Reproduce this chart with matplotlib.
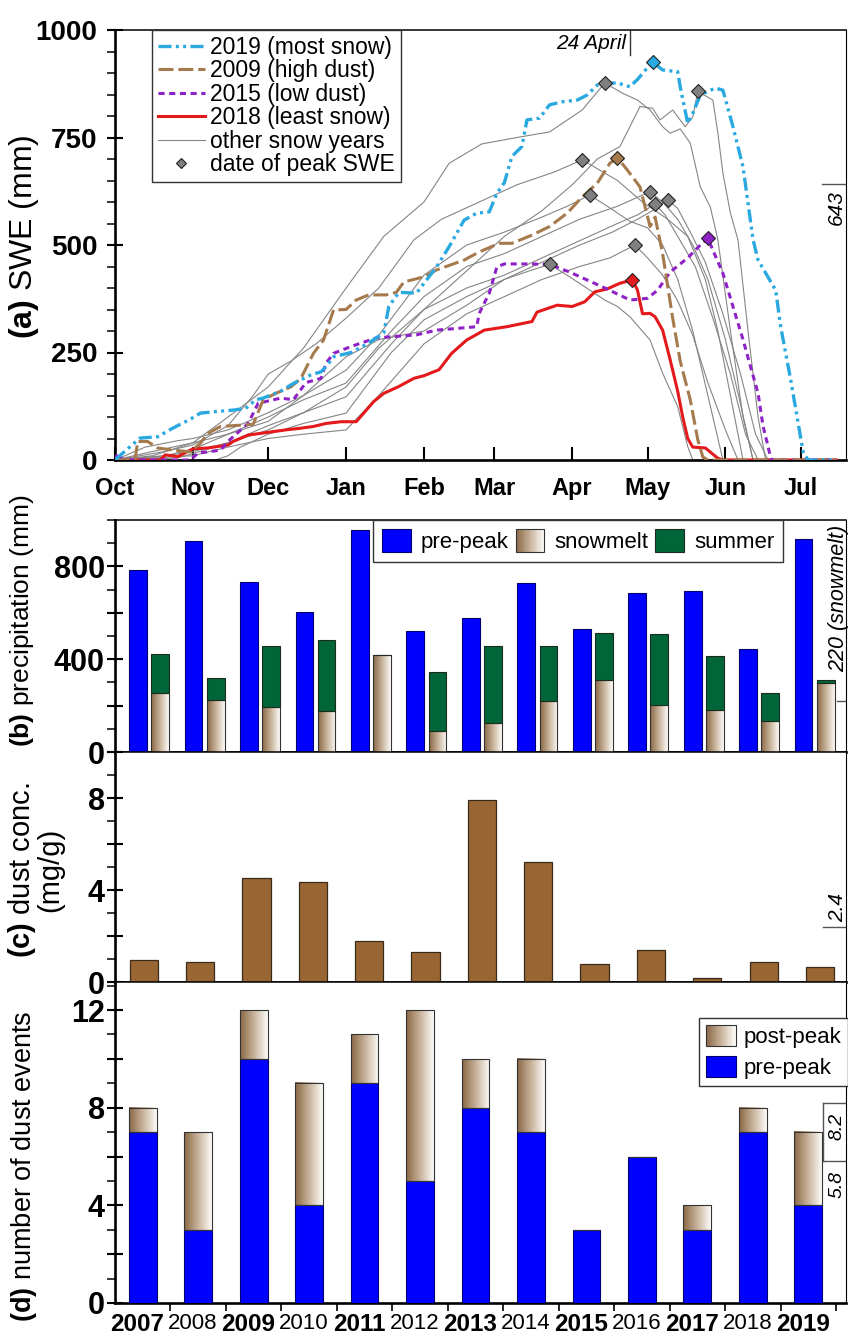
import numpy as np
import matplotlib
matplotlib.use('Agg')
import matplotlib.pyplot as plt
from matplotlib.colors import LinearSegmentedColormap
from matplotlib.legend_handler import HandlerBase
from matplotlib.patches import Rectangle
from matplotlib.lines import Line2D

plt.rcParams['font.family'] = 'Liberation Sans'
plt.rcParams['mathtext.fontset'] = 'custom'
plt.rcParams['mathtext.rm'] = 'Liberation Sans'
plt.rcParams['mathtext.bf'] = 'Liberation Sans:bold'
plt.rcParams['mathtext.it'] = 'Liberation Sans:italic'

# ---- panel (a): SWE curves, (day since 1 Oct, SWE mm) ----
months = ['Oct', 'Nov', 'Dec', 'Jan', 'Feb', 'Mar', 'Apr', 'May', 'Jun', 'Jul']
month_start = [0, 31, 61, 92, 123, 151, 182, 212, 243, 273]

swe_2019 = [(0, 0), (6, 31), (10, 51), (17, 54), (23, 74), (30, 95), (34, 109), (39, 112), (47, 116),
            (52, 120), (56, 140), (59, 144), (66, 160), (71, 178), (78, 198), (82, 205), (84, 217),
            (87, 240), (94, 250), (101, 272), (107, 296), (109, 357), (113, 390), (120, 388), (128, 449),
            (133, 496), (139, 558), (144, 574), (149, 577), (152, 620), (155, 645), (158, 706), (162, 729),
            (164, 791), (169, 795), (173, 826), (178, 833), (184, 837), (188, 849), (192, 872), (196, 876),
            (200, 877), (205, 868), (208, 885), (210, 899), (214, 926), (218, 907), (224, 903), (225, 868),
            (228, 783), (230, 806), (233, 849), (239, 865), (242, 860), (246, 775), (250, 682), (254, 512),
            (256, 465), (263, 395), (265, 310), (269, 186), (274, 16), (276, 0), (287, 0)]
swe_2009 = [(0, 0), (8, 0), (9, 43), (13, 43), (17, 28), (23, 23), (30, 19), (34, 39), (37, 62), (42, 78),
            (50, 81), (55, 83), (59, 140), (64, 155), (70, 170), (74, 190), (79, 248), (83, 279), (87, 349),
            (92, 350), (96, 372), (101, 384), (108, 384), (112, 390), (115, 414), (123, 426), (128, 442),
            (139, 465), (145, 484), (153, 504), (158, 504), (166, 523), (173, 543), (180, 574), (186, 612),
            (192, 644), (197, 690), (200, 703), (204, 674), (209, 635), (213, 543), (215, 565), (218, 480),
            (222, 330), (225, 230), (229, 140), (232, 47), (234, 7), (236, 0), (287, 0)]
swe_2015 = [(0, 0), (1, 15), (3, 0), (30, 0), (33, 16), (37, 19), (42, 23), (45, 43), (47, 54), (53, 85),
            (57, 132), (60, 136), (66, 144), (71, 140), (76, 180), (82, 190), (84, 225), (87, 248), (94, 264),
            (104, 284), (120, 291), (128, 302), (144, 310), (145, 341), (149, 388), (152, 449), (155, 456),
            (165, 456), (173, 455), (181, 437), (195, 400), (205, 372), (212, 376), (216, 395), (221, 437),
            (228, 470), (233, 500), (236, 516), (238, 488), (242, 434), (246, 357), (250, 280), (253, 217),
            (256, 155), (258, 78), (260, 31), (261, 4), (262, 0), (287, 0)]
swe_2018 = [(0, 0), (18, 0), (20, 12), (25, 8), (31, 26), (37, 28), (45, 35), (47, 43), (53, 58), (58, 62),
            (63, 66), (68, 70), (74, 74), (79, 78), (84, 85), (90, 89), (96, 89), (99, 109), (103, 136),
            (107, 155), (113, 171), (119, 190), (123, 196), (129, 210), (134, 248), (140, 279), (147, 302),
            (156, 310), (166, 322), (168, 344), (176, 360), (182, 357), (187, 368), (191, 391), (196, 398),
            (201, 411), (206, 419), (208, 395), (210, 340), (213, 341), (215, 333), (218, 302), (221, 233),
            (224, 160), (226, 100), (228, 50), (230, 30), (235, 28), (240, 4), (242, 0), (287, 0)]

other_1 = [(0, 0), (15, 10), (31, 40), (45, 100), (61, 170), (75, 260), (92, 400), (107, 520), (123, 600),
           (133, 690), (146, 735), (160, 750), (173, 763), (186, 814), (195, 877), (202, 853), (208, 837),
           (213, 814), (218, 775), (221, 760), (225, 770), (229, 737), (233, 635), (237, 588), (240, 512),
           (245, 300), (250, 100), (254, 0), (287, 0)]
other_2 = [(0, 0), (20, 10), (31, 20), (45, 40), (61, 70), (75, 110), (92, 170), (105, 260), (123, 350),
           (140, 440), (155, 520), (170, 580), (182, 640), (192, 700), (201, 729), (209, 822), (214, 818),
           (217, 791), (222, 814), (227, 775), (230, 798), (232, 857), (238, 837), (240, 760), (242, 667),
           (245, 574), (248, 512), (252, 300), (256, 100), (259, 0), (287, 0)]
other_3 = [(0, 0), (20, 20), (31, 35), (45, 80), (55, 150), (61, 200), (70, 230), (80, 270), (92, 330),
           (105, 400), (119, 512), (130, 560), (145, 600), (160, 640), (175, 670), (186, 698), (200, 650),
           (210, 600), (220, 560), (228, 520), (235, 420), (240, 300), (245, 150), (250, 0), (287, 0)]
other_4 = [(0, 0), (12, 30), (25, 45), (31, 50), (45, 70), (61, 110), (75, 150), (92, 209), (105, 290),
           (123, 430), (140, 500), (155, 530), (170, 565), (180, 590), (189, 616), (196, 590), (205, 555),
           (212, 540), (218, 500), (224, 420), (230, 300), (236, 150), (242, 0), (287, 0)]
other_5 = [(0, 0), (20, 10), (31, 25), (45, 60), (61, 100), (75, 140), (92, 179), (110, 300), (123, 380),
           (140, 450), (155, 480), (170, 520), (185, 560), (200, 590), (213, 624), (218, 600), (224, 560),
           (230, 500), (236, 420), (243, 280), (249, 130), (254, 0), (287, 0)]
other_6 = [(0, 0), (25, 5), (31, 15), (45, 40), (61, 80), (75, 110), (92, 147), (110, 270), (123, 350),
           (140, 400), (155, 430), (170, 470), (185, 510), (200, 550), (208, 570), (215, 595), (219, 570),
           (224, 520), (231, 450), (238, 330), (245, 200), (251, 60), (256, 0), (287, 0)]
other_7 = [(0, 0), (40, 0), (45, 10), (50, 30), (61, 60), (75, 85), (92, 109), (110, 250), (123, 326),
           (140, 380), (155, 420), (170, 460), (185, 500), (198, 530), (208, 560), (214, 580), (220, 605),
           (224, 585), (229, 530), (235, 460), (242, 340), (249, 200), (255, 60), (260, 0), (287, 0)]
other_8 = [(0, 0), (31, 10), (45, 30), (61, 50), (75, 60), (92, 70), (105, 150), (123, 270), (140, 340),
           (155, 380), (170, 420), (185, 450), (197, 470), (207, 500), (212, 470), (218, 430), (224, 370),
           (230, 290), (236, 180), (243, 70), (248, 0), (287, 0)]
other_9 = [(0, 0), (15, 20), (31, 40), (45, 60), (61, 90), (75, 150), (92, 240), (105, 280), (123, 300),
           (140, 360), (155, 420), (165, 440), (173, 455), (181, 426), (189, 395), (195, 372), (200, 357),
           (205, 333), (213, 279), (218, 202), (224, 124), (228, 31), (230, 0), (287, 0)]

# ---- panels (b)-(d) ----
years = list(range(2007, 2020))
precip_prepeak = [784, 909, 732, 603, 955, 521, 578, 728, 530, 685, 696, 442, 919]
precip_snowmelt = [255, 226, 193, 178, 417, 92, 125, 219, 309, 204, 180, 132, 299]
precip_summer = [167, 95, 262, 304, 0, 252, 331, 239, 205, 305, 233, 123, 13]
dust_conc = [0.97, 0.86, 4.54, 4.33, 1.77, 1.32, 7.93, 5.22, 0.77, 1.39, 0.19, 0.88, 0.64]
events_prepeak = [7, 3, 10, 4, 9, 5, 8, 7, 3, 6, 3, 7, 4]
events_postpeak = [1, 4, 2, 5, 2, 7, 2, 3, 0, 0, 1, 1, 3]

BLUE = '#0000ff'
GREEN = '#00663a'
BROWN = '#996633'
melt_cmap = LinearSegmentedColormap.from_list('melt', ['#8a6845', '#c7b29a', '#fdfbf8'])

W, H = 848, 1340
fig = plt.figure(figsize=(W / 100, H / 100), dpi=100)


def axes_px(top, bottom):
    return fig.add_axes([115 / W, 1 - bottom / H, 731 / W, (bottom - top) / H])


def style_spines(ax):
    ax.spines['left'].set_linewidth(1.9)
    ax.spines['bottom'].set_linewidth(1.9)
    ax.spines['top'].set_linewidth(1.1)
    ax.spines['right'].set_linewidth(0.8)
    ax.tick_params(axis='y', which='major', direction='inout', length=11.5, width=1.5)
    ax.tick_params(axis='y', which='minor', direction='out', length=5.8, width=1.1)


def gradient_fill(ax, bars):
    grad = np.linspace(0, 1, 64).reshape(1, -1)
    for b in bars:
        x0, y0 = b.get_xy()
        w, h = b.get_width(), b.get_height()
        if h <= 0:
            continue
        ax.imshow(grad, extent=(x0, x0 + w, y0, y0 + h), cmap=melt_cmap, aspect='auto',
                  interpolation='bilinear', zorder=2.9)


class GradientHandler(HandlerBase):
    def create_artists(self, legend, orig_handle, xdescent, ydescent, width, height, fontsize, trans):
        n = 24
        arts = []
        for k in range(n):
            arts.append(Rectangle((-xdescent + k * width / n, -ydescent), width / n * 1.1, height,
                                  facecolor=melt_cmap(k / (n - 1)), edgecolor='none', transform=trans))
        arts.append(Rectangle((-xdescent, -ydescent), width, height, facecolor='none',
                              edgecolor='#333333', lw=0.8, transform=trans))
        return arts


grad_handle = Rectangle((0, 0), 1, 1)
blue_handle = Rectangle((0, 0), 1, 1, facecolor=BLUE, edgecolor='#00006e', lw=0.8)
green_handle = Rectangle((0, 0), 1, 1, facecolor=GREEN, edgecolor='#1c2b1c', lw=0.8)

# ================= (a) =================
ax = axes_px(30, 460)
others = [other_1, other_2, other_3, other_4, other_5, other_6, other_7, other_8, other_9]
for c in others:
    d, v = zip(*c)
    ax.plot(d, v, color='#858585', lw=0.8, zorder=2)

highlight = [
    (swe_2018, '#e3191c', dict(ls='-'), 2.2),
    (swe_2015, '#8f22c6', dict(dashes=(2.0, 1.5)), 2.2),
    (swe_2009, '#a57a4c', dict(dashes=(4.9, 1.6)), 2.2),
    (swe_2019, '#29a9e0', dict(dashes=(3.9, 1.3, 0.9, 1.3, 0.9, 1.3)), 2.4),
]
for pts, col, st, lw in highlight:
    d, v = zip(*pts)
    ax.plot(d, v, color=col, lw=lw, zorder=4, **st)

for c in others:
    k = max(range(len(c)), key=lambda j: c[j][1])
    ax.plot(c[k][0], c[k][1], 'D', ms=7.2, mfc='#808080', mec='#222222', mew=0.8, zorder=6)
for pts, col, st, lw in highlight:
    k = max(range(len(pts)), key=lambda j: pts[j][1])
    ax.plot(pts[k][0], pts[k][1], 'D', ms=7.2, mfc=col, mec='#222222', mew=0.8, zorder=6)

ax.set_xlim(0, 291)
ax.set_ylim(0, 1000)
ax.set_xticks(month_start, labels=months, fontweight='bold', fontsize=17)
ax.tick_params(axis='x', direction='in', length=9.4, width=1.5, pad=12)
ax.set_yticks([0, 250, 500, 750, 1000], labels=['0', '250', '500', '750', '1000'],
              fontweight='bold', fontsize=20)
ax.set_yticks(np.arange(0, 1001, 50), minor=True)
style_spines(ax)
ax.tick_params(axis='y', which='major', pad=7)

ax.plot([205, 205], [1000, 942], color='#333333', lw=1.0)
ax.text(203.5, 968, '24 April', style='italic', ha='right', va='center', fontsize=15)
ax.plot([281.5, 291], [643, 643], color='#555555', lw=1.0)
ax.text(287.3, 628, '643', rotation=90, style='italic', ha='center', va='top', fontsize=15)

leg_handles = [
    Line2D([], [], color='#29a9e0', lw=2.4, dashes=(3.9, 1.3, 0.9, 1.3, 0.9, 1.3)),
    Line2D([], [], color='#a57a4c', lw=2.2, dashes=(4.9, 1.6)),
    Line2D([], [], color='#8f22c6', lw=2.2, dashes=(2.0, 1.5)),
    Line2D([], [], color='#e3191c', lw=2.2),
    Line2D([], [], color='#858585', lw=0.8),
    Line2D([], [], ls='none', marker='D', ms=5.5, mfc='#808080', mec='#222222', mew=0.8),
]
leg_labels = ['2019 (most snow)', '2009 (high dust)', '2015 (low dust)', '2018 (least snow)',
              'other snow years', 'date of peak SWE']
lg = ax.legend(leg_handles, leg_labels, loc='upper left', bbox_to_anchor=(0.0506, 1.0), borderaxespad=0,
               fontsize=16.5, handlelength=2.05, handletextpad=0.25, labelspacing=0.02, fancybox=False,
               framealpha=1, edgecolor='#333333', borderpad=0.25)
lg.get_frame().set_linewidth(1.0)

x = np.arange(len(years))

# ================= (b) =================
axb = axes_px(520, 752)
axb.bar(x - 0.085, precip_prepeak, 0.32, color=BLUE, edgecolor='#00006e', lw=0.8, zorder=3)
melt = axb.bar(x + 0.315, precip_snowmelt, 0.32, facecolor='none', edgecolor='#333333', lw=0.8, zorder=3)
gradient_fill(axb, melt)
axb.bar(x + 0.315, precip_summer, 0.32, bottom=precip_snowmelt, color=GREEN, edgecolor='#1c2b1c',
        lw=0.8, zorder=3)
axb.set_xlim(-0.5, 12.68)
axb.set_ylim(0, 1000)
axb.set_yticks([0, 200, 400, 600, 800], labels=['0', '', '400', '', '800'], fontweight='bold', fontsize=22)
axb.set_yticks(np.arange(0, 1001, 100), minor=True)
axb.set_xticks(np.arange(0.5, 13, 1), labels=[])
axb.tick_params(axis='x', direction='out', length=5.8, width=1.2)
style_spines(axb)
axb.tick_params(axis='y', which='major', pad=1.5)
axb.plot([12.52, 12.68], [220, 220], color='#555555', lw=1.0)
axb.text(12.55, 345, '220 (snowmelt)', rotation=90, style='italic', ha='center', va='bottom', fontsize=15.5)
lgb = axb.legend([blue_handle, grad_handle, green_handle], ['pre-peak', 'snowmelt', 'summer'],
                 handler_map={grad_handle: GradientHandler()}, loc='upper right',
                 bbox_to_anchor=(0.914, 1.0), borderaxespad=0, ncol=3, fontsize=16,
                 handlelength=1.3, handleheight=1.25, handletextpad=0.45, columnspacing=0.3,
                 fancybox=False, framealpha=1, edgecolor='#333333', borderpad=0.4)
lgb.get_frame().set_linewidth(1.0)

# ================= (c) =================
axc = axes_px(752, 982)
axc.bar(x * 1.016 + 0.02, dust_conc, 0.51, color=BROWN, edgecolor='#3a2a1a', lw=0.9, zorder=3)
axc.set_xlim(-0.5, 12.68)
axc.set_ylim(0, 10)
axc.set_yticks([0, 2, 4, 6, 8, 10], labels=['0', '', '4', '', '8', ''], fontweight='bold', fontsize=22)
axc.set_yticks(np.arange(0, 10.1, 1), minor=True)
axc.set_xticks(np.arange(0.5, 13, 1), labels=[])
axc.tick_params(axis='x', direction='out', length=5.8, width=1.2)
style_spines(axc)
axc.tick_params(axis='y', which='major', pad=1.5)
axc.plot([12.27, 12.68], [2.4, 2.4], color='#555555', lw=1.0)
axc.text(12.52, 2.6, '2.4', rotation=90, style='italic', ha='center', va='bottom', fontsize=15)

# ================= (d) =================
axd = axes_px(982, 1303)
axd.bar(x, events_prepeak, 0.5, color=BLUE, edgecolor='#00006e', lw=0.8, zorder=3)
post = axd.bar(x, events_postpeak, 0.5, bottom=events_prepeak, facecolor='none', edgecolor='#333333',
               lw=0.8, zorder=3)
gradient_fill(axd, post)
axd.set_xlim(-0.5, 12.68)
axd.set_ylim(0, 13.15)
axd.set_yticks(np.arange(0, 13, 2), labels=['0', '', '4', '', '8', '', '12'], fontweight='bold', fontsize=22)
axd.set_yticks(np.arange(0, 13.1, 1), minor=True)
axd.set_xticks(np.arange(0.5, 13, 1), labels=[])
axd.set_xticks(x - 0.1, labels=[str(y) for y in years], minor=True)
axd.tick_params(axis='x', which='major', direction='out', length=5.8, width=1.2)
axd.tick_params(axis='x', which='minor', length=0, pad=7.5)
for lab, y in zip(axd.get_xticklabels(minor=True), years):
    lab.set_fontweight('bold' if y % 2 == 1 else 'normal')
    lab.set_fontsize(17.5 if y % 2 == 1 else 16)
style_spines(axd)
axd.tick_params(axis='y', which='major', pad=1.5)
axd.plot([12.27, 12.68], [8.2, 8.2], color='#555555', lw=1.0)
axd.plot([12.27, 12.68], [5.8, 5.8], color='#555555', lw=1.0)
axd.plot([12.27, 12.27], [5.8, 8.2], color='#555555', lw=1.0)
axd.text(12.52, 7.8, '8.2', rotation=90, style='italic', ha='center', va='top', fontsize=14)
axd.text(12.52, 5.4, '5.8', rotation=90, style='italic', ha='center', va='top', fontsize=14)
lgd = axd.legend([grad_handle, blue_handle], ['post-peak', 'pre-peak'],
                 handler_map={grad_handle: GradientHandler()}, loc='upper right',
                 bbox_to_anchor=(1.003, 0.888), borderaxespad=0, fontsize=16,
                 handlelength=1.35, handleheight=1.1, handletextpad=0.35, labelspacing=0.35,
                 fancybox=False, framealpha=1, edgecolor='#333333', borderpad=0.3)
lgd.get_frame().set_linewidth(1.0)

# y labels
fig.text(24 / W, 1 - 237 / H, r'$\mathbf{(a)}$ SWE (mm)', rotation=90, ha='center', va='center', fontsize=23)
fig.text(22 / W, 1 - 621 / H, r'$\mathbf{(b)}$ precipitation (mm)', rotation=90, ha='center', va='center',
         fontsize=19)
fig.text(35 / W, 1 - 870 / H, r'$\mathbf{(c)}$ dust conc.' + '\n(mg/g)', rotation=90, ha='center',
         va='center', fontsize=21, multialignment='center', linespacing=0.95)
fig.text(24 / W, 1 - 1166 / H, r'$\mathbf{(d)}$ number of dust events', rotation=90, ha='center',
         va='center', fontsize=19.5)

fig.savefig('out.png', dpi=100)
